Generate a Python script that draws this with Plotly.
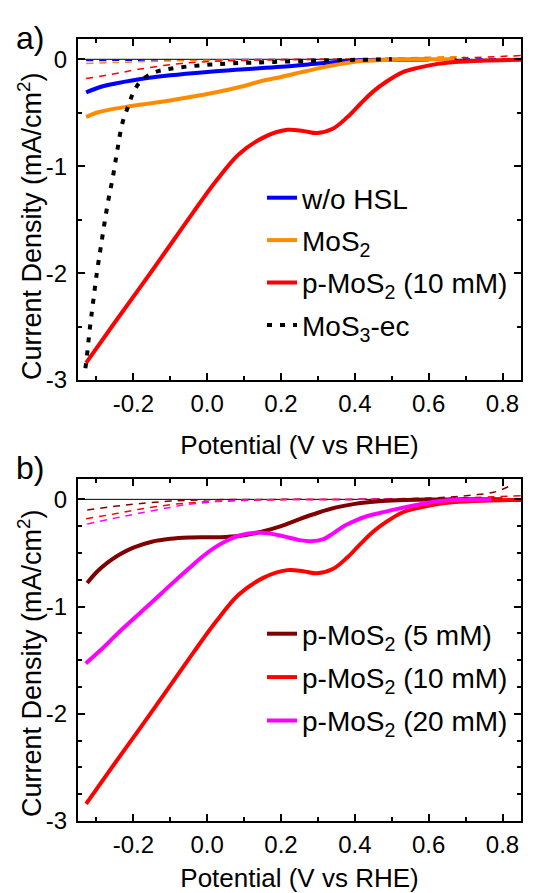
import plotly.graph_objects as go

# ---------------- data ----------------
# Panel a
a_noHSL_x = [-0.328, -0.28, -0.2, -0.1, 0.0, 0.1, 0.2, 0.3, 0.35, 0.4, 0.5, 0.6]
a_noHSL_y = [-0.31, -0.25, -0.195, -0.15, -0.118, -0.093, -0.07, -0.04, -0.025, -0.012, -0.004, -0.001]

a_mos2_x = [-0.328, -0.3, -0.27, -0.22, -0.15, -0.1, -0.05, 0.0, 0.05, 0.1, 0.15, 0.2, 0.25, 0.3,
            0.35, 0.4, 0.45, 0.5, 0.55, 0.6, 0.67]
a_mos2_y = [-0.54, -0.5, -0.475, -0.445, -0.41, -0.385, -0.355, -0.325, -0.29, -0.25, -0.2, -0.165,
            -0.125, -0.085, -0.05, -0.022, -0.01, -0.004, -0.001, 0.0, 0.0]

p10_x = [-0.328, -0.25, -0.15, -0.05, -0.017, 0.026, 0.085, 0.153, 0.217, 0.26, 0.298, 0.34, 0.38,
         0.414, 0.45, 0.485, 0.53, 0.57, 0.62, 0.67, 0.75, 0.85]
p10_y = [-2.84, -2.46, -1.98, -1.49, -1.33, -1.13, -0.89, -0.73, -0.66, -0.67, -0.69, -0.65, -0.54,
         -0.42, -0.30, -0.21, -0.12, -0.08, -0.045, -0.025, -0.012, -0.005]

mos3_x = [-0.33, -0.326, -0.318, -0.309, -0.299, -0.288, -0.27, -0.255, -0.243, -0.23, -0.213, -0.2,
          -0.179, -0.145, -0.1, -0.017, 0.068, 0.179, 0.32, 0.5]
mos3_y = [-2.89, -2.78, -2.52, -2.27, -2.0, -1.75, -1.36, -1.09, -0.84, -0.6, -0.43, -0.31,
          -0.2, -0.125, -0.088, -0.056, -0.038, -0.025, -0.01, 0.0]

# thin dashed (dark) curves, panel a
a_noHSL_dark_x = [-0.328, -0.2, 0.0, 0.3, 0.6, 0.85]
a_noHSL_dark_y = [-0.012, -0.008, -0.004, 0.0, 0.002, 0.003]
a_mos2_dark_x = [-0.328, -0.25, -0.1, 0.1, 0.3, 0.5, 0.6, 0.66, 0.7]
a_mos2_dark_y = [-0.04, -0.03, -0.015, -0.005, 0.0, 0.01, 0.02, 0.025, 0.02]
p10_dark_x = [-0.328, -0.25, -0.187, -0.1, -0.017, 0.1, 0.2, 0.4, 0.6, 0.7, 0.85]
p10_dark_y = [-0.18, -0.135, -0.094, -0.05, -0.025, -0.01, -0.003, 0.0, 0.005, 0.015, 0.035]

# Panel b
p5_x = [-0.325, -0.3, -0.27, -0.235, -0.2, -0.15, -0.1, -0.05, 0.0, 0.05, 0.1, 0.15, 0.2, 0.25,
        0.3, 0.35, 0.4, 0.45, 0.5, 0.6, 0.7, 0.8]
p5_y = [-0.78, -0.68, -0.59, -0.51, -0.45, -0.395, -0.368, -0.356, -0.353, -0.35, -0.335, -0.3,
        -0.25, -0.185, -0.125, -0.075, -0.042, -0.022, -0.01, -0.002, 0.0, 0.0]

p20_x = [-0.329, -0.29, -0.227, -0.15, -0.1, -0.05, -0.015, 0.02, 0.05, 0.09, 0.135, 0.18, 0.22,
         0.25, 0.28, 0.315, 0.34, 0.37, 0.4, 0.43, 0.47, 0.5, 0.57, 0.62, 0.67, 0.77]
p20_y = [-1.53, -1.41, -1.2, -0.96, -0.8, -0.645, -0.54, -0.45, -0.39, -0.335, -0.31, -0.325,
         -0.355, -0.38, -0.39, -0.37, -0.32, -0.25, -0.2, -0.16, -0.125, -0.1, -0.05, -0.02,
         -0.007, 0.0]

p5_dark_x = [-0.325, -0.25, -0.185, -0.1, 0.0, 0.2, 0.4, 0.55, 0.65, 0.72, 0.78, 0.82]
p5_dark_y = [-0.1, -0.065, -0.04, -0.016, -0.004, 0.0, 0.0, 0.008, 0.02, 0.04, 0.07, 0.125]
p20_dark_x = [-0.325, -0.25, -0.185, -0.1, -0.058, 0.07, 0.2, 0.4, 0.6, 0.77]
p20_dark_y = [-0.23, -0.175, -0.13, -0.075, -0.05, -0.01, -0.002, 0.0, 0.0, 0.0]

# axes / ticks
x_range = [-0.35, 0.85]
y_range = [-3.0, 0.19]
x_tickvals = [-0.2, 0.0, 0.2, 0.4, 0.6, 0.8]
x_ticktext = ["-0.2", "0.0", "0.2", "0.4", "0.6", "0.8"]
x_minor = [-0.3, -0.1, 0.1, 0.3, 0.5, 0.7]
y_tickvals = [-3, -2, -1, 0]
y_ticktext = ["-3", "-2", "-1", "0"]
ya_minor = [-2.5, -1.5, -0.5]
yb_minor = [-2.75, -2.5, -2.25, -1.75, -1.5, -1.25, -0.75, -0.5, -0.25]
x_title = "Potential (V vs RHE)"
y_title = "Current Density (mA/cm<sup>2</sup>)"

BLUE = "#0000FF"
ORANGE = "#FF8C00"
RED = "#FF0000"
DRED = "#800000"
MAG = "#FF00FF"
FONT = "Liberation Sans, Arial, sans-serif"

fig = go.Figure()


def thin(x, y, color, xa, ya):
    fig.add_trace(go.Scatter(x=x, y=y, mode="lines", xaxis=xa, yaxis=ya, showlegend=False,
                             line=dict(color=color, width=1.5, dash="7px,6px", shape="spline"),
                             hoverinfo="skip"))


def thick(x, y, color, name, xa, ya, leg, dash=None):
    fig.add_trace(go.Scatter(x=x, y=y, mode="lines", xaxis=xa, yaxis=ya, name=name,
                             legend=leg, legendgroup=name + leg,
                             line=dict(color=color, width=4, shape="spline", dash=dash)))


# panel a
thin(a_noHSL_dark_x, a_noHSL_dark_y, BLUE, "x", "y")
thin(a_mos2_dark_x, a_mos2_dark_y, ORANGE, "x", "y")
thin(p10_dark_x, p10_dark_y, RED, "x", "y")
thick(a_noHSL_x, a_noHSL_y, BLUE, "w/o HSL", "x", "y", "legend")
thick(a_mos2_x, a_mos2_y, ORANGE, "MoS<sub>2</sub>", "x", "y", "legend")
thick(p10_x, p10_y, RED, "p-MoS<sub>2</sub> (10 mM)", "x", "y", "legend")
thick(mos3_x, mos3_y, "#000000", "MoS<sub>3</sub>-ec", "x", "y", "legend", dash="5px,8px")

# panel b
thin(p5_dark_x, p5_dark_y, DRED, "x2", "y2")
thin(p10_dark_x, p10_dark_y, RED, "x2", "y2")
thin(p20_dark_x, p20_dark_y, MAG, "x2", "y2")
thick(p5_x, p5_y, DRED, "p-MoS<sub>2</sub> (5 mM)", "x2", "y2", "legend2")
thick(p10_x, p10_y, RED, "p-MoS<sub>2</sub> (10 mM)", "x2", "y2", "legend2")
thick(p20_x, p20_y, MAG, "p-MoS<sub>2</sub> (20 mM)", "x2", "y2", "legend2")

# zero baselines
for yref in ["y", "y2"]:
    fig.add_hline(y=0, line=dict(color="black", width=1), yref=yref, xref="x" if yref == "y" else "x2",
                  layer="below")

W, H = 551, 893
ML, MR, MT, MB = 78, 30, 39, 72
PH = H - MT - MB


def py(p):
    return (H - MB - p) / PH


def px(p):
    return (p - ML) / (W - ML - MR)


xaxis_common = dict(range=x_range, tickmode="array", tickvals=x_tickvals, ticktext=x_ticktext,
                    ticks="inside", ticklen=7, tickwidth=1.5, tickcolor="black",
                    showline=True, linewidth=2, linecolor="black", mirror="ticks",
                    showgrid=False, zeroline=False, ticklabelstandoff=1, automargin=False,
                    minor=dict(tickvals=x_minor, ticks="inside", ticklen=4, tickwidth=1.5, tickcolor="black"),
                    tickfont=dict(size=24, color="black", family=FONT),
                    title=dict(text=x_title, font=dict(size=26, color="black", family=FONT),
                               standoff=20))
yaxis_common = dict(range=y_range, tickmode="array", tickvals=y_tickvals, ticktext=y_ticktext,
                    ticks="inside", ticklen=7, tickwidth=1.5, tickcolor="black",
                    showline=True, linewidth=2, linecolor="black", mirror="ticks",
                    showgrid=False, zeroline=False, automargin=False,
                    tickfont=dict(size=24, color="black", family=FONT),
                    ticklabelstandoff=4)


def ytitle(ycenter):
    return dict(text=y_title, x=px(30), y=py(ycenter), xref="paper", yref="paper",
                xanchor="center", yanchor="middle", textangle=-90, showarrow=False,
                font=dict(size=27, color="black", family=FONT))


fig.update_layout(
    width=W, height=H, margin=dict(l=ML, r=MR, t=MT, b=MB),
    paper_bgcolor="white", plot_bgcolor="white",
    font=dict(family=FONT, color="black"),
    xaxis=dict(domain=[0, 1], anchor="y", **xaxis_common),
    yaxis=dict(domain=[py(380), 1.0], anchor="x", minor=dict(tickvals=ya_minor, ticks="inside", ticklen=4,
                                                              tickwidth=1.5, tickcolor="black"),
               **yaxis_common),
    xaxis2=dict(domain=[0, 1], anchor="y2", **xaxis_common),
    yaxis2=dict(domain=[0.0, py(479)], anchor="x2", minor=dict(tickvals=yb_minor, ticks="inside", ticklen=4,
                                                                tickwidth=1.5, tickcolor="black"),
                **yaxis_common),
    legend=dict(x=px(262), y=py(173), xanchor="left", yanchor="top", bgcolor="rgba(0,0,0,0)",
                font=dict(size=28, color="black", family=FONT), tracegroupgap=3),
    legend2=dict(x=px(262), y=py(609), xanchor="left", yanchor="top", bgcolor="rgba(0,0,0,0)",
                 font=dict(size=28, color="black", family=FONT), tracegroupgap=4),
    annotations=[
        dict(text="a)", x=px(14), y=py(38), xref="paper", yref="paper", xanchor="left", yanchor="middle",
             showarrow=False, font=dict(size=32, color="black", family=FONT)),
        dict(text="b)", x=px(14), y=py(468), xref="paper", yref="paper", xanchor="left", yanchor="middle",
             showarrow=False, font=dict(size=32, color="black", family=FONT)),
        ytitle(226),
        ytitle(663),
    ],
)

fig.write_html("out.html")
